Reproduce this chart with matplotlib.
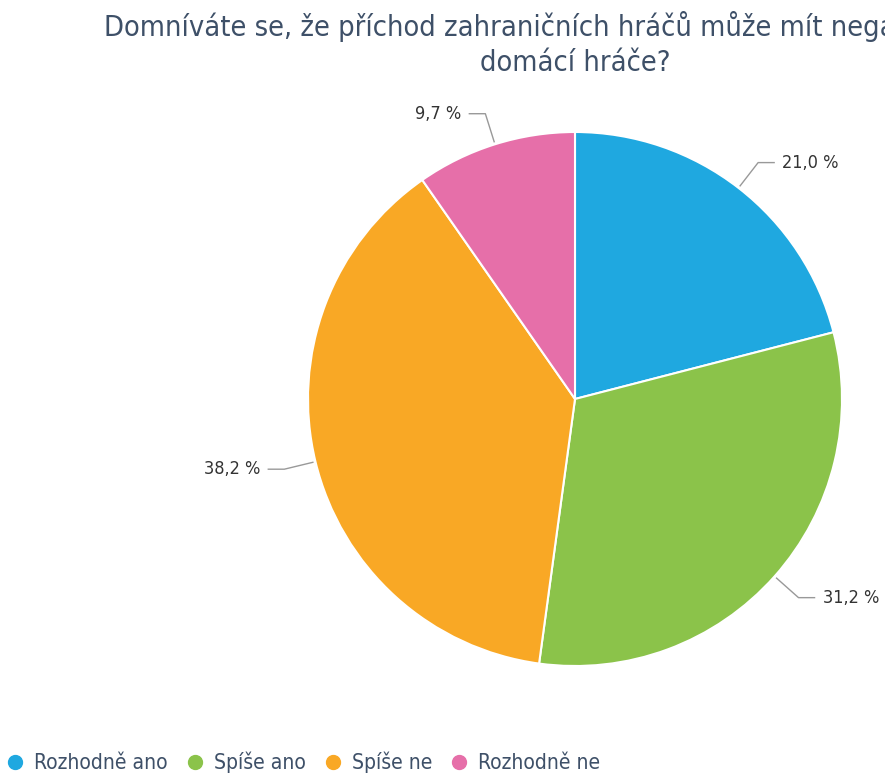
import numpy as np
import matplotlib
matplotlib.use("Agg")
import matplotlib.pyplot as plt
from matplotlib.lines import Line2D

categories = ["Rozhodně ano", "Spíše ano", "Spíše ne", "Rozhodně ne"]
values = [21.0, 31.2, 38.2, 9.7]
labels = ["21,0 %", "31,2 %", "38,2 %", "9,7 %"]
colors = ["#1fa8e0", "#8bc34a", "#f9a825", "#e66fa9"]
title = "Domníváte se, že příchod zahraničních hráčů může mít negativní vliv na\ndomácí hráče?"

plt.rcParams["font.family"] = ["DejaVu Sans"]
plt.rcParams["font.stretch"] = "condensed"

W, H = 885, 773
fig = plt.figure(figsize=(W / 100, H / 100), dpi=100)

cx, cy, R = 575, 399, 267
lim = 1.3
half = R * lim
ax = fig.add_axes([(cx - half) / W, (H - cy - half) / H, 2 * half / W, 2 * half / H])

wedges, _ = ax.pie(values, colors=colors, startangle=90, counterclock=False,
                   radius=1.0, wedgeprops=dict(edgecolor="white", linewidth=1.5))
ax.set_xlim(-lim, lim)
ax.set_ylim(-lim, lim)
ax.set_aspect("equal")
ax.axis("off")

for w, lab in zip(wedges, labels):
    ang = np.deg2rad((w.theta1 + w.theta2) / 2)
    x0, y0 = np.cos(ang), np.sin(ang)
    x1, y1 = 1.12 * x0, 1.12 * y0
    side = 1 if x0 >= 0 else -1
    x2 = x1 + side * 0.06
    ax.plot([1.01 * x0, x1, x2], [1.01 * y0, y1, y1], color="#999999", lw=1.0,
            solid_joinstyle="round")
    ax.text(x2 + side * 0.03, y1, lab, ha="left" if side > 0 else "right",
            va="center", fontsize=13, color="#333333")

fig.text(cx / W, 1 - 11 / H, title, ha="center", va="top", fontsize=20.8,
         color="#3e5068", linespacing=1.3)

handles = [Line2D([0], [0], marker="o", linestyle="none", markersize=10,
                  markerfacecolor=c, markeredgecolor=c) for c in colors]
fig.legend(handles, categories, loc="lower left", bbox_to_anchor=(-0.016, -0.019),
           ncol=4, frameon=False, fontsize=15.1, handletextpad=0.2,
           columnspacing=0.6, labelcolor="#3e5068", borderaxespad=0.3,
           handlelength=1.4)

fig.savefig("out.png", dpi=100)
